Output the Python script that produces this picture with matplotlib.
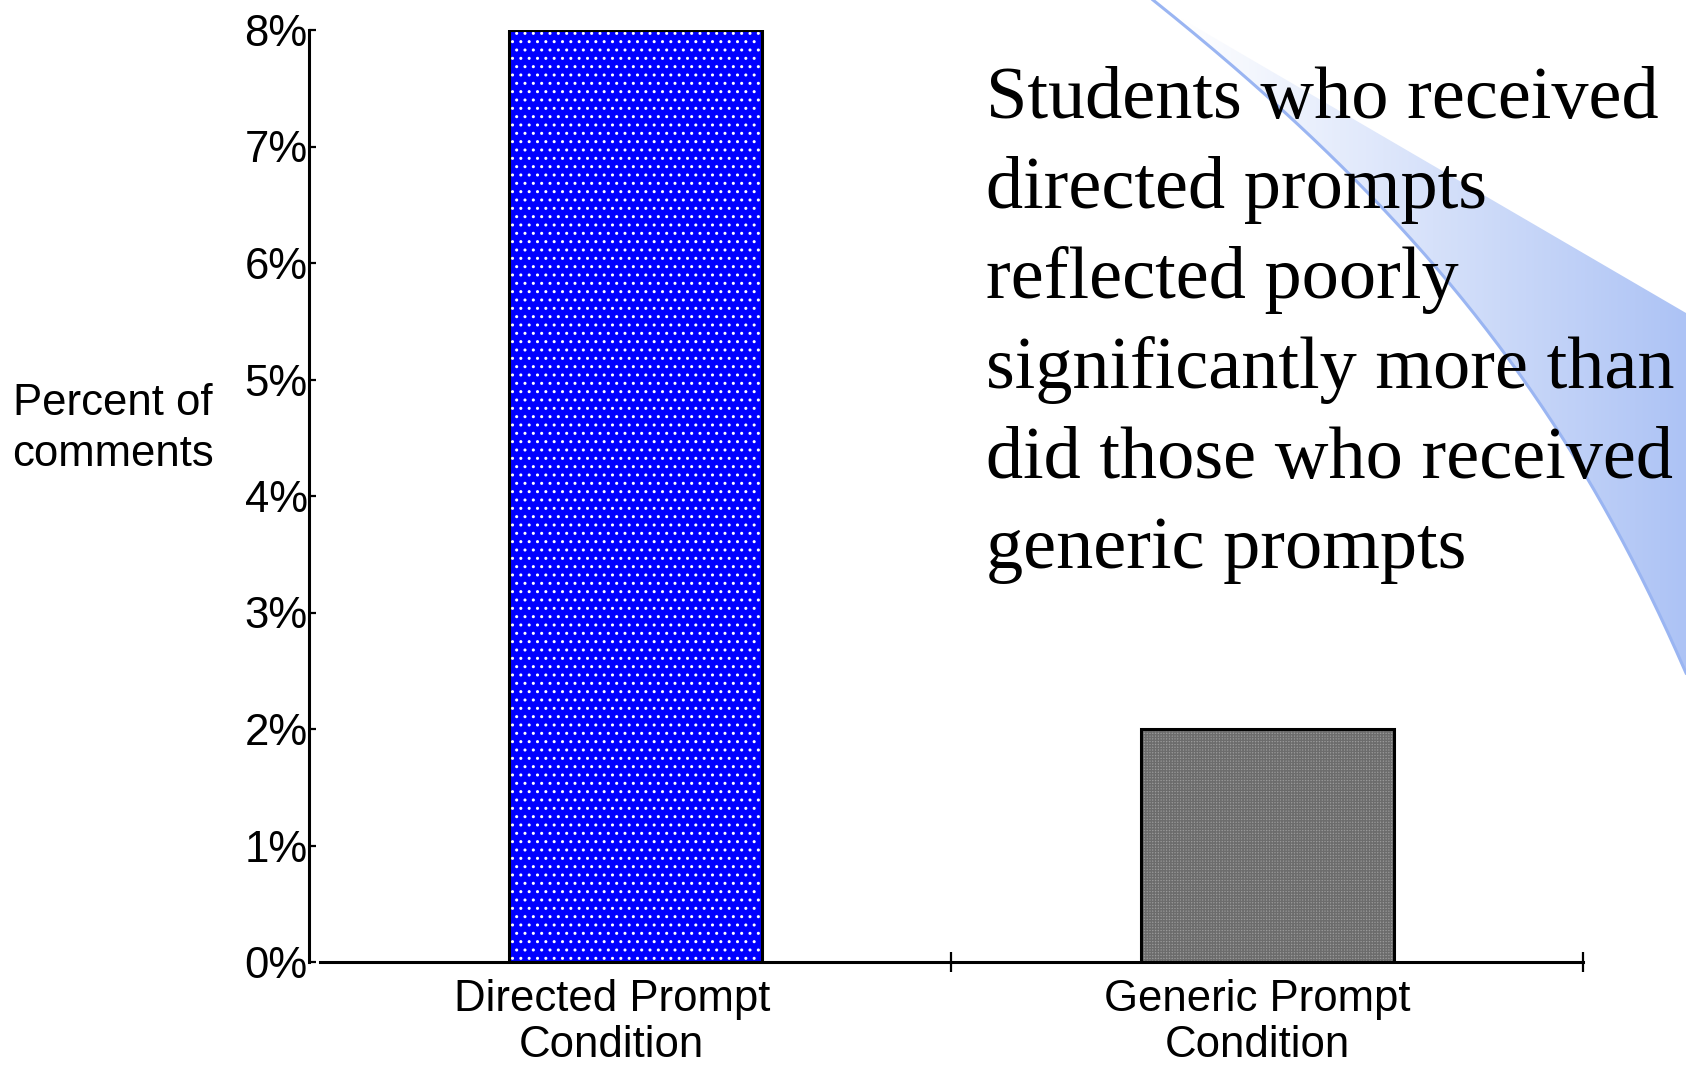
import numpy as np
import matplotlib
matplotlib.use("Agg")
import matplotlib.pyplot as plt
from matplotlib.patches import Polygon
from matplotlib.colors import LinearSegmentedColormap
from matplotlib.transforms import ScaledTranslation

# Chart data
categories = ["Directed Prompt\nCondition", "Generic Prompt\nCondition"]
percent_of_comments = [8, 2]
category_positions = [0.5, 1.5]
y_ticks = [0, 1, 2, 3, 4, 5, 6, 7, 8]
y_tick_labels = [f"{v}%" for v in y_ticks]
y_label = "Percent of\ncomments"
summary_lines = [
    "Students who received",
    "directed prompts",
    "reflected poorly",
    "significantly more than",
    "did those who received",
    "generic prompts",
]

plt.rcParams["font.family"] = ["Liberation Sans", "DejaVu Sans"]
plt.rcParams["hatch.linewidth"] = 1.0

W, H = 1686, 1065
fig = plt.figure(figsize=(W / 100, H / 100), dpi=100)
fig.patch.set_facecolor("white")

# Decorative swoosh in the upper-right corner (pixel coordinates)
bg = fig.add_axes([0, 0, 1, 1], zorder=0)
bg.set_xlim(0, W)
bg.set_ylim(H, 0)
bg.axis("off")

p0 = np.array([1153.0, 0.0])
p1 = np.array([1413.0, 208.0])
p2 = np.array([1566.0, 397.0])
p3 = np.array([1686.0, 673.0])
t = np.linspace(0, 1, 300)[:, None]
edge_curve = ((1 - t) ** 3) * p0 + 3 * ((1 - t) ** 2) * t * p1 + 3 * (1 - t) * (t ** 2) * p2 + (t ** 3) * p3
region = np.vstack([edge_curve, [[1686.0, 313.0], [1163.0, 8.0]]])
clip = Polygon(region, closed=True, facecolor="none", edgecolor="none")
bg.add_patch(clip)
swoosh_cmap = LinearSegmentedColormap.from_list("swoosh", ["#ffffff", "#adc3f5"])
grad = np.linspace(0, 1, 512)[None, :]
img = bg.imshow(grad, cmap=swoosh_cmap, extent=(1180, W, H, 0), aspect="auto",
                interpolation="bilinear", zorder=0)
img.set_clip_path(clip)
bg.plot(edge_curve[:, 0], edge_curve[:, 1], color="#9ab5f2", lw=2.2, zorder=1)
bg.set_xlim(0, W)
bg.set_ylim(H, 0)

# Bar chart
ax = fig.add_axes([320 / W, 1 - 962 / H, (1583 - 320) / W, (962 - 30) / H], zorder=1)
ax.patch.set_alpha(0)

bar_faces = ["#0000ff", "#9a9a9a"]
bar_hatch_colors = ["#ffffff", "#6c6c6c"]
bar_hatches = ["..", "++++++"]
for pos, val, fc, hc, hp in zip(category_positions, percent_of_comments,
                                bar_faces, bar_hatch_colors, bar_hatches):
    ax.bar(pos, val, width=0.4, color=fc, edgecolor=hc, hatch=hp, linewidth=0, zorder=2)
ax.bar(category_positions, percent_of_comments, width=0.4, fill=False,
       edgecolor="black", linewidth=2.2, zorder=3)

ax.set_xlim(0, 2)
ax.set_ylim(0, 8)
ax.set_yticks(y_ticks)
ax.set_yticklabels(y_tick_labels)
ax.set_xticks([1, 2])
ax.set_xticklabels([])
ax.set_xticks(category_positions, minor=True)
ax.set_xticklabels(categories, minor=True)

for s in ("top", "right"):
    ax.spines[s].set_visible(False)
for s in ("left", "bottom"):
    ax.spines[s].set_linewidth(2.2)
ax.spines["left"].set_position(("outward", 8))

ax.tick_params(axis="y", direction="in", length=5, width=1.6, pad=1,
               labelsize=31.5, colors="black")
ax.tick_params(axis="x", which="major", direction="inout", length=14, width=1.6)
ax.tick_params(axis="x", which="minor", length=0, pad=12, labelsize=31.5)
label_shifts = [-24, -10]
for lbl, dx in zip(ax.get_xticklabels(minor=True), label_shifts):
    lbl.set_linespacing(1.17)
    lbl.set_transform(lbl.get_transform() + ScaledTranslation(dx / 100, 0, fig.dpi_scale_trans))

fig.text(113 / W, 1 - 429 / H, y_label, ha="center", va="center",
         fontsize=31.5, linespacing=1.3)

# Summary statement
serif = ["Liberation Serif", "DejaVu Serif"]
baseline0 = 118
line_step = 90
for i, line in enumerate(summary_lines):
    fig.text(986 / W, 1 - (baseline0 + i * line_step) / H, line, ha="left",
             va="baseline", fontsize=53.5, family=serif, color="black", zorder=5)

fig.savefig("out.png", dpi=100)
